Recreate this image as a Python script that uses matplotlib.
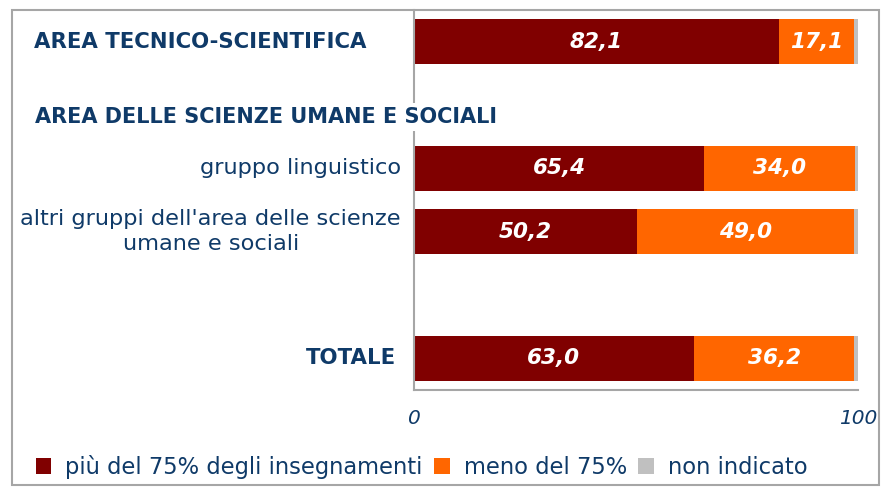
import matplotlib.pyplot as plt
from matplotlib.patches import Rectangle, Patch

# dati
categorie = ["AREA TECNICO-SCIENTIFICA", "", "gruppo linguistico",
             "altri gruppi dell'area delle scienze\numane e sociali", "", "TOTALE"]
piu_75 = [82.1, None, 65.4, 50.2, None, 63.0]
meno_75 = [17.1, None, 34.0, 49.0, None, 36.2]
non_ind = [0.8, None, 0.6, 0.8, None, 0.8]
serie_nomi = ["più del 75% degli insegnamenti", "meno del 75%", "non indicato"]
colori = ["#800000", "#FF6600", "#C0C0C0"]
navy = "#0F3A68"
bordo = "#A6A6A6"

fig = plt.figure(figsize=(8.81, 4.87), dpi=100)
fig.patches.append(Rectangle((12 / 881, 1 - 485 / 487), 867 / 881, 475 / 487,
                             transform=fig.transFigure, fill=False,
                             edgecolor=bordo, linewidth=1.5))

ax = fig.add_axes([414 / 881, 1 - 390 / 487, 444 / 881, 380 / 487])

for i in range(len(categorie)):
    if piu_75[i] is None:
        continue
    left = 0
    for vals, col in zip([piu_75, meno_75, non_ind], colori):
        v = vals[i]
        ax.barh(i, v, left=left, height=0.71, color=col, edgecolor="none")
        if v > 5:
            ax.text(left + v / 2, i, f"{v:.1f}".replace(".", ","),
                    ha="center", va="center", color="white",
                    fontsize=15.5, fontweight="bold", fontstyle="italic")
        left += v

ax.set_xlim(0, 100)
ax.set_ylim(5.5, -0.5)
ax.set_xticks([0, 100])
ax.set_xticklabels(["0", "100"], fontsize=14.5, fontstyle="italic", color=navy)
ax.tick_params(axis="x", length=0, pad=14)
ax.set_yticks([])
for s in ["top", "right"]:
    ax.spines[s].set_visible(False)
for s in ["left", "bottom"]:
    ax.spines[s].set_color(bordo)
    ax.spines[s].set_linewidth(1.5)

# etichette categorie
ax.text(-0.855, 0, categorie[0], transform=ax.get_yaxis_transform(),
        ha="left", va="center", fontsize=15.3, fontweight="bold", color=navy)
fig.text(35 / 881, 1 - 117 / 487, "AREA DELLE SCIENZE UMANE E SOCIALI",
         ha="left", va="center", fontsize=15.0, fontweight="bold", color=navy,
         zorder=5, bbox=dict(facecolor="white", edgecolor="none", pad=3))
for i in [2, 3]:
    ax.text(-0.029, i, categorie[i], transform=ax.get_yaxis_transform(),
            ha="right", va="center", multialignment="center",
            fontsize=16.2, color=navy, linespacing=1.3)
ax.text(-0.04, 5, categorie[5], transform=ax.get_yaxis_transform(),
        ha="right", va="center", fontsize=15.3, fontweight="bold", color=navy)

handles = [Patch(facecolor=c, edgecolor="none") for c in colori]
fig.legend(handles, serie_nomi, loc="center left",
           bbox_to_anchor=(36 / 881, 1 - 467 / 487), ncol=3, frameon=False,
           borderpad=0, borderaxespad=0,
           handlelength=0.68, handleheight=0.68, handletextpad=0.62,
           columnspacing=0.5, labelcolor=navy, prop={"size": 16.3})

fig.savefig("out.png", dpi=100)
